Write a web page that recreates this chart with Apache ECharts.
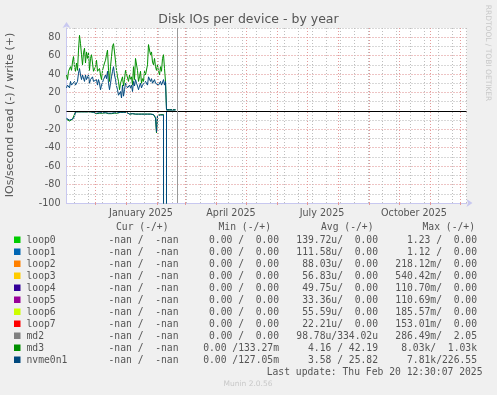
<!DOCTYPE html>
<html><head><meta charset="utf-8">
<script src="https://cdn.jsdelivr.net/npm/echarts@6/dist/echarts.min.js"></script>
<style>html,body{margin:0;padding:0;background:#f0f0f0}#c{width:497px;height:395px}</style>
</head><body><div id="c"></div>
<script>
// ---------- text ----------
const chartTitle = 'Disk IOs per device - by year';
const yAxisTitle = 'IOs/second read (-) / write (+)';
const lastUpdate = 'Last update: Thu Feb 20 12:30:07 2025';
const footer = 'Munin 2.0.56';
const watermark = 'RRDTOOL / TOBI OETIKER';

// ---------- axes ----------
const axisStart = '2024-11-02';
const axisEnd = '2025-12-07';
const nowMark = '2025-02-20T12:30:07Z';
const yMin = -100, yMax = 90, yStep = 10;
const yTickLabels = [-100, -80, -60, -40, -20, 0, 20, 40, 60, 80];
const monthLabels = ['January 2025', 'April 2025', 'July 2025', 'October 2025'];
const monthLabelDates = ['2025-01-15T12:00:00Z', '2025-04-15T12:00:00Z', '2025-07-15T12:00:00Z', '2025-10-15T12:00:00Z'];
const firstMinorGrid = '2024-11-10';

// ---------- data (one value per day from firstDay) ----------
const firstDay = '2024-11-02';
const md3Write = [
  39,34,43,43,48,44,53,59,48,43,
  52,44,66,82,73,61,50,63,68,52,
  64,57,63,44,57,61,52,43,44,48,
  55,43,41,46,39,34,44,48,52,55,
  61,66,44,32,48,59,70,73,64,66,
  44,37,32,23,30,32,37,27,34,44,
  46,43,32,39,34,37,28,48,34,57,
  55,44,32,37,43,30,35,32,43,39,
  37,50,72,66,61,64,53,50,57,48,
  44,50,43,39,48,43,57,61,46,32,
  1.5,2,1.5,1.5,2,1.5,1.5,2,1.5,1.5
];
const nvmeWrite = [
  25,28,30,25,32,28,27,30,32,28,
  27,32,41,46,39,34,39,37,32,39,
  34,35,39,30,34,32,37,32,34,30,
  34,28,34,30,23,28,30,34,32,39,
  35,43,30,23,30,37,43,48,39,34,
  27,23,17,16,21,14,28,16,23,30,
  28,25,23,28,25,28,21,32,27,34,
  30,27,23,27,30,25,28,27,30,32,
  34,28,37,35,32,35,30,28,34,30,
  28,32,28,28,32,28,30,34,28,32,
  1.2,1.5,1.2,1.2,1.5,1.2,1.2,1.5,1.2,1.2
];
const md3Read = [
  -9,-10,-8,-11,-13,-12,-9,-10,-7,
  -1,-1,-1.5,-1,-2,-2,-1,-1,-1.5,-1,-1,-1.5,-1,-1,-1.5,-1,-1,-2,-1.5,
  -2.5,-2,-3,-2.5,-3,-2.5,-3,-2,-2.5,-3,-2.5,-2,-3,-2.5,-3,-2.5,-2,-3,-2.5,-2,-2.5,-3,-2,-2.5,-2,
  -1.5,-1.5,-1,-1.5,-1.5,-1,-1.5,-1.5,-1,-1.5,
  -3.5,-3.5,-3.5,-3,-3.5,-3.5,-3.5,-3.5,-3,-3.5,-3.5,-3.5,-3.5,-3.5,-3,-3.5,-3.5,-3.5,-3.5,-3.5,-3.5,-3.5,-3.5,-3.5,
  -4,-3.5,-8,
  -24,
  -5,
  -4,-4.5,-4,-4,-4.5,-4,-3,
  -8030,
  -0.3,-0.3,-0.3,-0.3,-0.3,-0.3,-0.3,-0.3,-0.3,-0.3
];
const nvmeRead = [
  -8,-9,-8,-10,-11,-10,-9,-9,-6,
  -1,-1,-1.5,-1,-1.5,-1.5,-1,-1,-1.5,-1,-1,-1.5,-1,-1,-1.5,-1,-1,-1.5,-1.5,
  -2,-2,-2.5,-2,-2.5,-2,-2.5,-2,-2,-2.5,-2,-2,-2.5,-2,-2.5,-2,-2,-2.5,-2,-2,-2,-2.5,-2,-2,-2,
  -1.5,-1.5,-1,-1.5,-1.5,-1,-1.5,-1.5,-1,-1.5,
  -3.5,-3.5,-3.5,-3,-3.5,-3.5,-3.5,-3.5,-3,-3.5,-3.5,-3.5,-3.5,-3.5,-3,-3.5,-3.5,-3.5,-3.5,-3.5,-3.5,-3.5,-3.5,-3.5,
  -4,-4,-7,
  -23,
  -5,
  -4.5,-5,-4.5,-4.5,-5,-4.5,-3.5,
  -7810,
  -0.3,-0.3,-0.3,-0.3,-0.3,-0.3,-0.3,-0.3,-0.3,-0.3
];

// ---------- legend table ----------
const devices = ['loop0','loop1','loop2','loop3','loop4','loop5','loop6','loop7','md2','md3','nvme0n1'];
const deviceColors = ['#00CC00','#0066B3','#FF8000','#FFCC00','#330099','#990099','#CCFF00','#FF0000','#808080','#008F00','#00487D'];
const colHeaders = ['Cur (-/+)','Min (-/+)','Avg (-/+)','Max (-/+)'];
const curCol = ['-nan /  -nan','-nan /  -nan','-nan /  -nan','-nan /  -nan','-nan /  -nan','-nan /  -nan','-nan /  -nan','-nan /  -nan','-nan /  -nan','-nan /  -nan','-nan /  -nan'];
const minCol = ['0.00 /  0.00','0.00 /  0.00','0.00 /  0.00','0.00 /  0.00','0.00 /  0.00','0.00 /  0.00','0.00 /  0.00','0.00 /  0.00','0.00 /  0.00','0.00 /133.27m','0.00 /127.05m'];
const avgCol = ['139.72u/  0.00','111.58u/  0.00','88.03u/  0.00','56.83u/  0.00','49.75u/  0.00','33.36u/  0.00','55.59u/  0.00','22.21u/  0.00','98.78u/334.02u','4.16 / 42.19','3.58 / 25.82'];
const maxCol = ['1.23 /  0.00','1.12 /  0.00','218.12m/  0.00','540.42m/  0.00','110.70m/  0.00','110.69m/  0.00','185.57m/  0.00','153.01m/  0.00','286.49m/  2.05','8.03k/  1.03k','7.81k/226.55'];

// ---------- build ----------
const DAY = 86400000;
const t0 = Date.parse(firstDay + 'T00:00:00Z');
const pairs = arr => arr.map((v, i) => [t0 + i * DAY, v]);
const tStart = Date.parse(axisStart + 'T00:00:00Z');
const tEnd = Date.parse(axisEnd + 'T00:00:00Z');

const monthStarts = [];
{
  const s = new Date(tStart);
  let y = s.getUTCFullYear(), m = s.getUTCMonth() + 1;
  while (true) {
    const t = Date.UTC(y, m, 1);
    if (t > tEnd) break;
    monthStarts.push(t);
    m++;
  }
}
const minorGrid = [];
for (let t = Date.parse(firstMinorGrid + 'T00:00:00Z'); t <= tEnd; t += 14 * DAY) minorGrid.push(t);
const labelTs = monthLabelDates.map(d => Date.parse(d));

const mono = 'DejaVu Sans Mono';
const sans = 'DejaVu Sans';
const txtColor = '#555';
const legFont = '9.7px "' + mono + '"';
const majorGridColor = '#e49a9a';
const minorGridColor = '#bdbdbd';

const graphic = [];
function text(x, y, s, opt) {
  opt = opt || {};
  graphic.push({
    type: 'text', x: x, y: y, rotation: opt.rotation || 0, silent: true,
    style: {
      text: s, fill: opt.fill || txtColor, font: opt.font || legFont,
      align: opt.align || 'left', verticalAlign: 'middle',
      textAlign: opt.align || 'left', textVerticalAlign: 'middle'
    }
  });
}
text(248.5, 19.5, chartTitle, {font: '12.5px "' + sans + '"', align: 'center'});
text(10.5, 115, yAxisTitle, {font: '11px "' + sans + '"', align: 'center', rotation: Math.PI / 2});
text(487.5, 53, watermark, {font: '7.5px "' + sans + '"', align: 'center', rotation: -Math.PI / 2, fill: '#c8c8c8'});

const headerY = 227.3, rowY0 = 240, rowStep = 12;
const headerX = [116, 218.5, 321, 422.5];
colHeaders.forEach((h, j) => text(headerX[j], headerY, h));
const colRight = [178.5, 279, 378, 477];
devices.forEach((d, i) => {
  const y = rowY0 + i * rowStep;
  graphic.push({type: 'rect', silent: true, shape: {x: 14, y: y - 3.5, width: 6.5, height: 6.5}, style: {fill: deviceColors[i]}});
  text(26.5, y, d);
  [curCol, minCol, avgCol, maxCol].forEach((col, j) => text(colRight[j], y, col[i], {align: 'right'}));
});
text(482.5, rowY0 + devices.length * rowStep, lastUpdate, {align: 'right'});
text(248, 384.5, footer, {font: '7.5px "' + sans + '"', align: 'center', fill: '#c8c8c8'});

const lineSeries = (name, data, color) => ({
  name: name, type: 'line', data: pairs(data), showSymbol: false, symbol: 'none',
  lineStyle: {color: color, width: 1}, itemStyle: {color: color}, animation: false, z: 3, clip: true
});
const md3Color = deviceColors[devices.indexOf('md3')];
const nvmeColor = deviceColors[devices.indexOf('nvme0n1')];

const gridLineData = [].concat(
  minorGrid.map(t => ({xAxis: t, lineStyle: {color: minorGridColor, type: [1, 2], width: 1}})),
  monthStarts.map(t => ({xAxis: t, lineStyle: {color: majorGridColor, type: [1, 2], width: 1}}))
);

const series = [
  {
    name: 'grid', type: 'line', data: [[tStart, null]], z: 1, silent: true, animation: false, symbol: 'none',
    markLine: {silent: true, symbol: 'none', animation: false, label: {show: false}, data: gridLineData}
  },
  lineSeries('md3 read', md3Read, md3Color),
  lineSeries('md3 write', md3Write, md3Color),
  lineSeries('nvme0n1 read', nvmeRead, nvmeColor),
  Object.assign(lineSeries('nvme0n1 write', nvmeWrite, nvmeColor), {
    markLine: {
      silent: true, symbol: 'none', animation: false, label: {show: false},
      data: [
        {yAxis: 0, lineStyle: {color: '#000', type: 'solid', width: 1}},
        {xAxis: Date.parse(nowMark), lineStyle: {color: '#999', type: 'solid', width: 1}}
      ]
    }
  })
];

const chart = echarts.init(document.getElementById('c'), null, {renderer: 'canvas'});
chart.setOption({
  backgroundColor: '#f0f0f0',
  animation: false,
  grid: {left: 66.5, top: 28, width: 400, height: 175, containLabel: false, show: true, backgroundColor: '#fff', borderWidth: 0},
  xAxis: {
    type: 'value', min: tStart, max: tEnd, scale: true,
    axisLine: {onZero: false, lineStyle: {color: '#c8c8f0', width: 1}, symbol: ['none', 'arrow'], symbolSize: [6, 6], symbolOffset: [0, 6]},
    axisTick: {show: true, customValues: monthStarts, length: 2, lineStyle: {color: majorGridColor}},
    axisLabel: {
      customValues: labelTs, margin: 5, color: txtColor, fontFamily: sans, fontSize: 9.6,
      formatter: v => { const i = labelTs.indexOf(v); return i >= 0 ? monthLabels[i] : ''; }
    },
    splitLine: {show: false}
  },
  yAxis: {
    type: 'value', min: yMin, max: yMax, interval: yStep,
    axisLine: {show: true, lineStyle: {color: '#c8c8f0', width: 1}, symbol: ['none', 'arrow'], symbolSize: [6, 6], symbolOffset: [0, 6]},
    axisTick: {show: false},
    axisLabel: {
      margin: 6, color: txtColor, fontFamily: sans, fontSize: 9.6,
      formatter: v => yTickLabels.indexOf(v) >= 0 ? String(v) : ''
    },
    splitLine: {show: true, lineStyle: {color: ['#dc8888', '#b0b0b0'], type: [1, 2], width: 1}}
  },
  series: series,
  graphic: graphic
});
</script></body></html>
